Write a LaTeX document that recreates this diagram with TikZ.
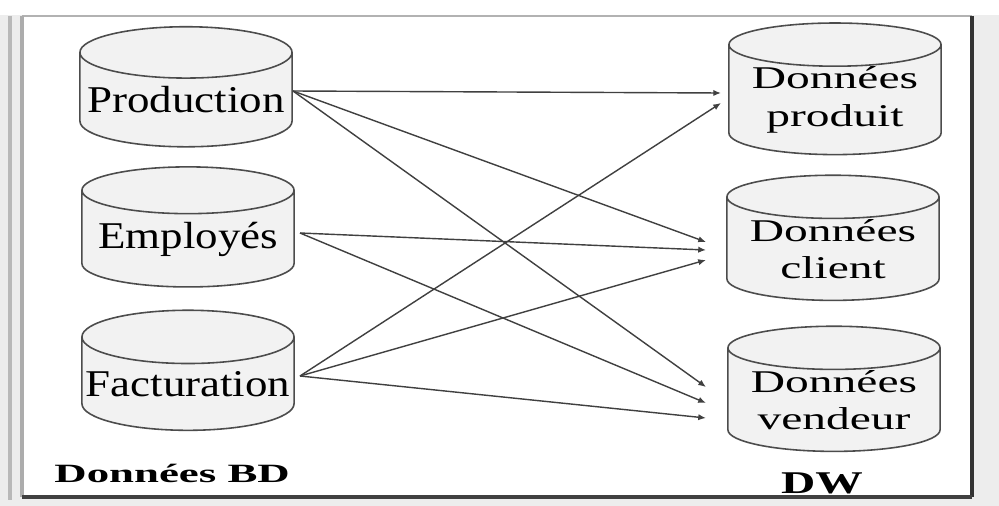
\documentclass[tikz,border=0pt]{standalone}
\usepackage{fontspec}
\setmainfont{Liberation Serif}
\newfontfamily\srcfont{Liberation Serif}[FakeStretch=1.19]
\newfontfamily\dwfont{Liberation Serif}[FakeStretch=1.5]
\newfontfamily\capfont{Liberation Serif}[FakeStretch=1.7]
\usetikzlibrary{shapes.geometric,arrows.meta,calc}
\tikzset{
  base/.style={cylinder, shape border rotate=90, draw=black!70, fill=gray!10,
    line width=0.45pt, aspect=0.26, inner sep=0pt,
    minimum width=2.12cm, minimum height=1.2cm},
  srcbase/.style={base, font=\srcfont\fontsize{10.75}{12}\selectfont},
  dwbase/.style={base, align=center, font=\dwfont\fontsize{9}{10.6}\selectfont},
  feed/.style={-{Latex[length=2.2pt,width=1.8pt]}, line width=0.4pt, black!75}
}
\begin{document}
\begin{tikzpicture}[x=0.01cm, y=-0.01cm]
    \useasboundingbox (0,0) rectangle (999,506);
    \fill [gray!14] (0,0) rectangle (999,506);
    \fill [white] (0,0) rectangle (999,15);
    \fill [white] (22,16) rectangle (972,497);
    \draw [gray!60, line width=0.5pt] (22,16) -- (972,16);
    \draw [gray!55, line width=1.2pt] (10,16) -- (10,500);
    \draw [gray!65, line width=1pt] (22,16) -- (22,497);
    \draw [black!80, line width=1pt] (972,16) -- (972,497);
    \draw [black!75, line width=1pt] (22,497) -- (972,497);
    \node [srcbase] (prod) at (186,100) {Production};
    \node [srcbase] (emp) at (188,239) {Employés};
    \node [srcbase] (fact) at (188,384) {Facturation};
    \node [dwbase] (prodw) at (835,100) {Données\\produit};
    \node [dwbase] (cli) at (833,249) {Données\\client};
    \node [dwbase] (vend) at (834,400) {Données\\vendeur};
    \node [font=\capfont\fontsize{7.5}{9}\selectfont\bfseries, anchor=base west] (bd) at (42,482) {Données BD};
    \node [font=\dwfont\fontsize{9}{10}\selectfont\bfseries, anchor=base] (dw) at (822,493) {DW};
    \coordinate (prod-o) at ($(prod)+(107,-9)$);
    \coordinate (emp-o) at ($(emp)+(112,-6)$);
    \coordinate (fact-o) at ($(fact)+(112,-8)$);
    \coordinate (prodw-a) at ($(prodw)+(-114,-7)$);
    \coordinate (prodw-c) at ($(prodw)+(-114,3)$);
    \coordinate (cli-a) at ($(cli)+(-127,-7)$);
    \coordinate (cli-b) at ($(cli)+(-127,1)$);
    \coordinate (cli-c) at ($(cli)+(-127,11)$);
    \coordinate (vend-a) at ($(vend)+(-128,-13)$);
    \coordinate (vend-b) at ($(vend)+(-128,3)$);
    \coordinate (vend-c) at ($(vend)+(-128,18)$);
    \draw [feed] (prod-o) -- (prodw-a);
    \draw [feed] (prod-o) -- (cli-a);
    \draw [feed] (prod-o) -- (vend-a);
    \draw [feed] (emp-o) -- (cli-b);
    \draw [feed] (emp-o) -- (vend-b);
    \draw [feed] (fact-o) -- (prodw-c);
    \draw [feed] (fact-o) -- (cli-c);
    \draw [feed] (fact-o) -- (vend-c);
\end{tikzpicture}
\end{document}
